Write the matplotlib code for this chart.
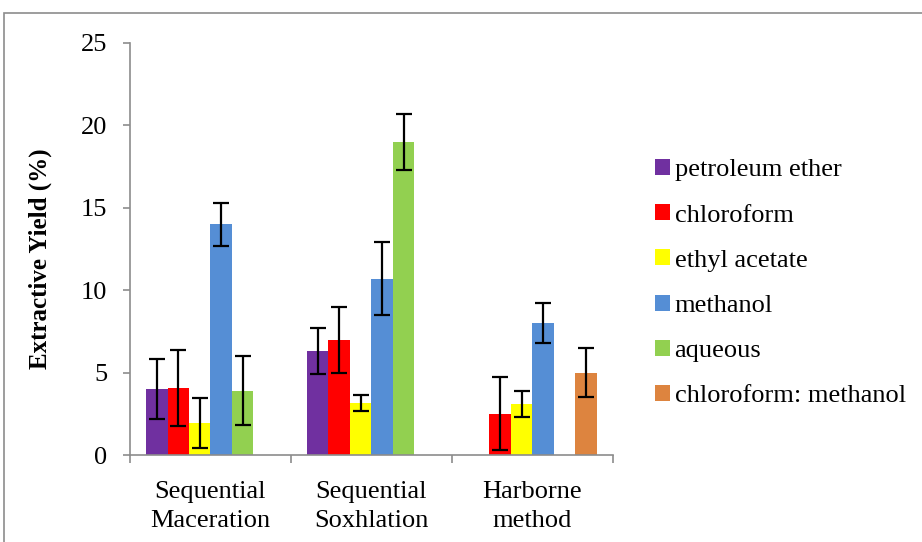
import numpy as np
import matplotlib.pyplot as plt
from matplotlib.patches import Rectangle

# Extraction methods (categories) and solvent series
methods = ["Sequential\nMaceration", "Sequential\nSoxhlation", "Harborne\nmethod"]
solvents = ["petroleum ether", "chloroform", "ethyl acetate", "methanol",
            "aqueous", "chloroform: methanol"]

# Mean extractive yield (%) per solvent, one value per method (nan = not done)
petroleum_ether = [4.0, 6.3, np.nan]
chloroform = [4.05, 6.95, 2.5]
ethyl_acetate = [1.95, 3.15, 3.1]
methanol = [14.0, 10.7, 8.0]
aqueous = [3.9, 19.0, np.nan]
chloroform_methanol = [np.nan, np.nan, 5.0]

# Standard deviations
petroleum_ether_sd = [1.8, 1.4, np.nan]
chloroform_sd = [2.3, 2.0, 2.2]
ethyl_acetate_sd = [1.5, 0.5, 0.8]
methanol_sd = [1.3, 2.2, 1.2]
aqueous_sd = [2.1, 1.7, np.nan]
chloroform_methanol_sd = [np.nan, np.nan, 1.5]

means = [petroleum_ether, chloroform, ethyl_acetate, methanol, aqueous, chloroform_methanol]
sds = [petroleum_ether_sd, chloroform_sd, ethyl_acetate_sd, methanol_sd, aqueous_sd,
       chloroform_methanol_sd]
colors = ["#7030A0", "#FF0000", "#FFFF00", "#558ED5", "#92D050", "#DD843F"]

plt.rcParams['font.family'] = ['Liberation Serif', 'DejaVu Serif']
axis_grey = "#8C8C8C"

fig = plt.figure(figsize=(9.22, 5.42), dpi=100)
W, H = 922, 542
ax = fig.add_axes([130 / W, 1 - 455 / H, (612.7 - 130) / W, (455 - 42.7) / H])

# outer chart frame
fig.patches.append(Rectangle((4 / W, -0.05), 1.1, 1 - 13 / H + 0.05, transform=fig.transFigure,
                             fill=False, edgecolor=axis_grey, linewidth=1.2))

x = np.arange(len(methods))
n = len(solvents)
bar_w = 1.0 / (n + 1.5)
for i, (vals, err, col, name) in enumerate(zip(means, sds, colors, solvents)):
    pos = x + (i - (n - 1) / 2) * bar_w
    ax.bar(pos, vals, width=bar_w, color=col, label=name, zorder=2)
    ax.errorbar(pos, vals, yerr=err, fmt='none', ecolor='black', elinewidth=1.6,
                capsize=6, capthick=1.6, zorder=3)

ax.set_xlim(-0.5, len(methods) - 0.5)
ax.set_ylim(0, 25)
ax.set_yticks(np.arange(0, 26, 5))
ax.set_xticks(x)
ax.set_xticklabels(methods, fontsize=19, linespacing=1.36)
ax.set_xticks(np.arange(-0.5, len(methods), 1), minor=True)
ax.tick_params(axis='x', which='major', length=0, pad=19)
ax.tick_params(axis='x', which='minor', length=6, width=1.2, color=axis_grey, direction='out')
ax.tick_params(axis='y', length=5, width=1.2, color=axis_grey, labelsize=19, pad=11.5)

for side in ['top', 'right']:
    ax.spines[side].set_visible(False)
for side in ['left', 'bottom']:
    ax.spines[side].set_color(axis_grey)
    ax.spines[side].set_linewidth(1.2)

fig.text(40 / W, 1 - 259 / H, "Extractive Yield (%)", rotation=90, fontsize=18,
         fontweight='bold', ha='center', va='center')

ax.legend(loc='upper left', bbox_to_anchor=(655 / W, 1 - 159 / H), bbox_transform=fig.transFigure,
          frameon=False, fontsize=19, handlelength=0.55, handleheight=0.55,
          handletextpad=0.19, labelspacing=0.87, borderpad=0, borderaxespad=0)

fig.savefig("out.png", dpi=100)
